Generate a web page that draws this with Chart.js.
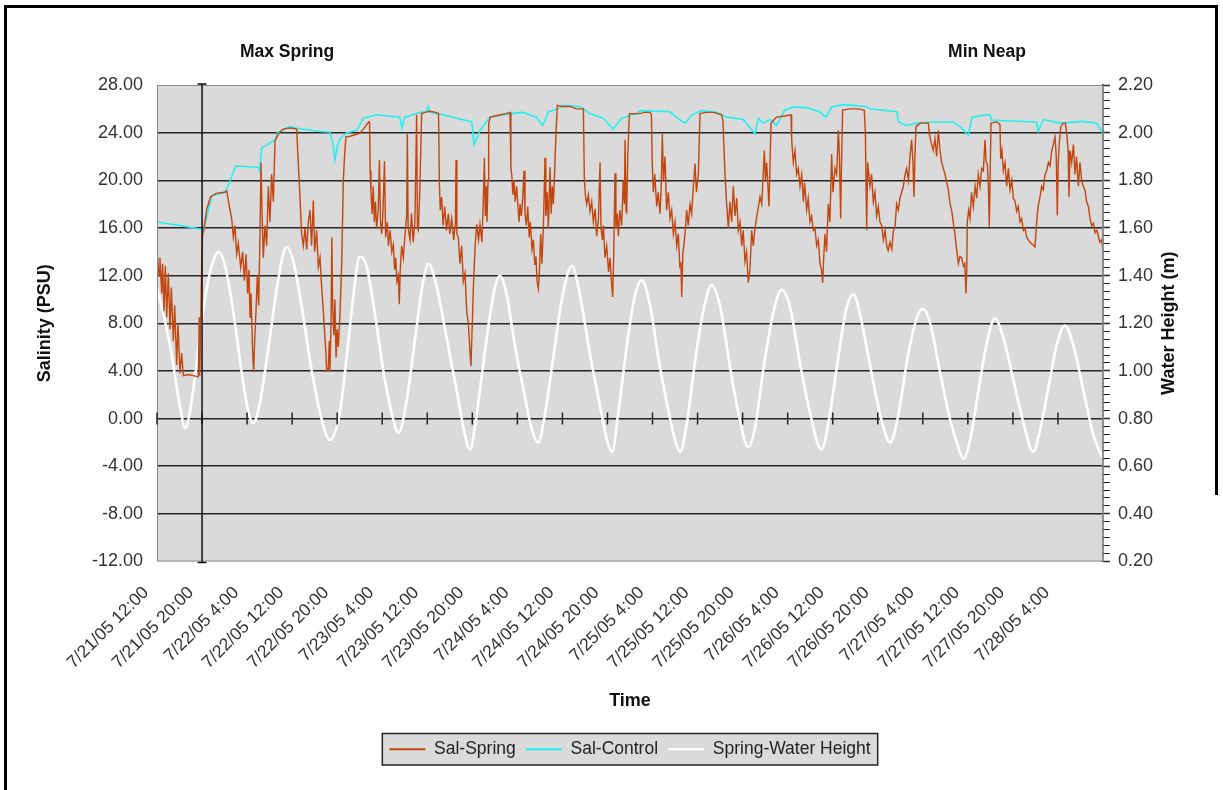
<!DOCTYPE html>
<html>
<head>
<meta charset="utf-8">
<title>Sal-Spring / Sal-Control / Spring-Water Height</title>
<script src="https://cdn.jsdelivr.net/npm/chart.js@4.4.1/dist/chart.umd.min.js"></script>
<style>
  html, body { margin: 0; padding: 0; background: #fff; }
  #wrap { position: relative; width: 1223px; height: 790px; overflow: hidden; }
  #chart { position: absolute; left: 0; top: 0; }
  .frame { position: absolute; background: #000; }
</style>
</head>
<body>
<div id="wrap">
  <canvas id="chart" width="1223" height="790"></canvas>
  <div class="frame" style="left:4px;top:5px;width:1214px;height:3px"></div>
  <div class="frame" style="left:4px;top:5px;width:3px;height:785px"></div>
  <div class="frame" style="left:1215px;top:5px;width:3px;height:490px"></div>
</div>
<script>
// hours since 7/21/05 12:00, one label every 8 hours
const timeLabels = ['7/21/05 12:00', '7/21/05 20:00', '7/22/05 4:00', '7/22/05 12:00', '7/22/05 20:00',
    '7/23/05 4:00', '7/23/05 12:00', '7/23/05 20:00', '7/24/05 4:00', '7/24/05 12:00', '7/24/05 20:00',
    '7/25/05 4:00', '7/25/05 12:00', '7/25/05 20:00', '7/26/05 4:00', '7/26/05 12:00', '7/26/05 20:00',
    '7/27/05 4:00', '7/27/05 12:00', '7/27/05 20:00', '7/28/05 4:00'];

// [hour, salinity PSU]
const salSpring = [
    [0,16.1],[0.06,13.8],[0.36,12.0],[0.53,13.5],[0.83,10.5],[1.0,13.0],[1.24,9.0],[1.48,12.8],[1.72,8.5],[2.01,12.2],
    [2.31,7.5],[2.55,11.0],[2.9,6.5],[3.14,9.5],[3.49,4.5],[3.73,8.0],[4.08,3.8],[4.38,5.5],[4.68,3.6],[5.56,3.7],
    [6.45,3.6],[7.34,3.5],[7.5,8.5],[7.6,3.6],[7.9,12.0],[8.1,15.5],[8.3,15.8],[8.8,17.5],[9.5,18.6],[10.5,18.9],
    [12.0,19.0],[12.4,19.1],[12.85,17.8],[13.26,16.8],[13.56,15.2],[13.85,16.2],[14.15,13.8],[14.44,14.7],[14.86,12.7],[15.21,14.0],
    [15.51,11.6],[15.81,13.8],[16.1,10.5],[16.34,12.5],[16.52,8.5],[16.69,10.5],[16.99,5.5],[17.17,3.9],[17.34,6.5],[17.58,9.0],
    [17.82,12.0],[18.06,9.5],[18.29,15.5],[18.47,21.5],[18.65,17.5],[18.88,13.5],[19.18,16.2],[19.48,14.5],[19.77,19.5],[20.07,16.5],
    [20.36,20.5],[20.66,18.2],[20.96,23.3],[21.55,23.9],[22.44,24.3],[23.62,24.4],[24.8,24.3],[25.04,22.0],[25.4,18.5],[25.69,15.5],
    [25.99,14.5],[26.28,16.0],[26.58,14.2],[26.87,16.5],
    [27.17,17.5],[27.45,14.5],[27.76,18.3],[28.0,14.0],[28.35,15.8],[28.65,12.7],[28.95,13.5],[29.25,11.0],[29.54,9.0],[29.8,7.0],
    [30.0,5.5],[30.13,4.0],[30.4,4.1],[30.6,6.5],[30.72,4.0],[30.9,8.0],[31.05,15.2],[31.2,9.5],[31.4,7.0],[31.6,10.0],
    [31.8,5.1],[32.0,7.5],[32.2,6.0],[32.5,8.8],[32.8,13.0],[33.09,20.0],[33.3,22.0],[33.55,23.65],[34.3,23.7],[35.0,23.8],
    [36.05,23.95],[37.0,24.5],[37.6,24.9],[37.75,24.9],[37.85,20.8],[38.0,19.0],[38.2,17.2],[38.4,19.5],[38.6,16.5],[38.8,18.2],
    [39.0,16.0],[39.3,17.5],[39.5,21.7],[39.7,16.5],[39.9,15.5],[40.1,17.0],[40.4,21.6],[40.6,15.2],[40.9,16.5],[41.1,14.5],
    [41.4,15.8],[41.7,14.0],[41.97,14.6],[42.2,12.5],[42.4,13.5],[42.6,11.5],[42.85,12.0],[43.03,9.6],[43.2,12.5],[43.45,14.5],
    [43.75,13.5],[44.05,15.5],[44.34,17.0],[44.46,23.9],[44.6,16.0],[44.93,15.0],[45.2,17.2],[45.5,14.8],[45.8,16.5],[46.11,25.5],
    [46.25,16.0],[46.41,15.8],[46.7,19.5],[47.0,25.6],[47.6,25.7],[48.5,25.8],[49.5,25.7],[50.0,25.6],[50.14,20.0],[50.3,17.5],
    [50.55,18.6],[50.8,16.2],[51.1,17.8],[51.4,15.8],[51.74,17.2],[52.0,15.5],[52.33,16.8],[52.7,15.0],[53.0,16.5],[53.1,21.7],
    [53.25,15.5],[53.51,15.2],[53.8,13.0],[54.1,14.5],[54.4,11.5],[54.7,12.2],[55.0,9.0],[55.29,8.0],[55.6,5.5],[55.75,4.4],
    [55.9,6.5],[56.18,11.0],[56.5,14.5],[56.77,16.3],[57.1,15.0],[57.36,16.3],
    [57.7,14.8],[57.96,18.5],[58.14,21.9],[58.3,17.0],[58.43,19.5],[58.6,16.5],[58.8,20.0],[58.9,24.8],[59.2,25.3],[60.0,25.4],
    [61.0,25.5],[62.0,25.6],[62.69,25.7],[62.85,21.0],[63.0,20.5],[63.2,18.8],[63.4,20.0],[63.6,18.2],[63.88,19.5],[64.1,17.8],
    [64.3,16.5],[64.47,18.0],[64.7,17.0],[64.95,18.5],[65.18,20.8],[65.35,17.2],[65.6,16.2],[65.85,17.8],[66.1,15.2],[66.3,16.5],
    [66.6,14.2],[66.84,15.0],[67.1,12.9],[67.3,13.6],[67.5,11.5],[67.73,10.9],[67.9,12.2],[68.14,15.5],[68.35,13.0],[68.61,16.0],
    [68.91,21.9],[69.05,17.0],[69.3,19.0],[69.5,16.0],[69.8,21.1],[70.0,17.2],[70.2,19.5],[70.39,18.0],[70.6,20.5],[70.86,24.0],
    [71.1,26.3],[72.0,26.2],[73.35,26.2],[74.5,26.0],[75.72,26.0],[75.9,20.0],[76.1,18.6],[76.31,18.0],[76.6,18.8],[76.9,17.4],
    [77.2,18.2],[77.49,16.5],[77.8,17.6],[78.08,15.3],[78.4,16.8],[78.68,21.5],[78.85,16.0],[79.1,15.0],[79.27,16.2],[79.55,13.5],
    [79.86,14.5],[80.2,12.3],[80.45,13.5],[80.7,11.5],[80.93,10.2],[81.1,13.5],[81.34,20.6],[81.5,16.0],[81.75,17.2],[81.93,15.3],
    [82.2,17.5],[82.52,16.2],[82.8,20.0],[83.0,18.0],[83.12,23.4],[83.3,17.5],[83.41,17.2],[83.6,22.0],[83.89,25.6],[85.0,25.6],
    [85.78,25.6],
    [86.5,25.7],[87.55,25.7],[87.8,25.5],[87.95,21.4],[88.14,19.0],[88.4,20.5],[88.74,17.8],[89.0,19.0],[89.33,17.2],[89.55,19.5],
    [89.74,23.9],[89.95,20.0],[90.22,22.0],[90.5,17.5],[90.81,19.0],[91.1,16.8],[91.4,17.5],[91.7,15.5],[91.99,16.5],[92.3,14.5],
    [92.58,15.5],[92.85,12.8],[93.05,13.0],[93.18,10.2],[93.4,14.0],[93.59,14.6],[93.85,16.0],[94.06,17.5],[94.35,16.2],[94.66,18.0],
    [94.95,17.2],[95.25,19.5],[95.54,21.4],[95.8,19.0],[96.14,20.5],[96.43,25.6],[97.5,25.7],[98.8,25.7],[100.28,25.5],[100.5,25.0],
    [100.87,20.5],[101.1,18.5],[101.46,16.0],[101.75,18.2],[102.05,16.5],[102.35,19.5],[102.65,17.0],[102.95,18.5],[103.24,15.8],[103.55,16.5],
    [103.83,14.5],[104.1,15.8],[104.42,13.2],[104.7,14.0],[105.01,11.4],[105.3,12.5],[105.61,15.8],[105.9,14.5],[106.2,16.0],[106.6,17.2],
    [107.09,18.6],[107.4,18.0],[107.86,22.5],[108.05,20.0],[108.27,21.5],[108.5,19.5],[108.68,17.8],[108.85,21.0],[109.04,24.8],[110.0,25.3],
    [111.5,25.4],[112.6,25.5],[112.71,23.4],[113.0,21.5],[113.3,22.5],[113.6,20.5],[113.9,21.0],[114.19,19.5],
    [114.5,20.5],[114.78,18.2],[115.0,19.8],[115.37,17.5],[115.65,18.5],[115.96,16.5],[116.25,17.0],[116.55,15.8],[116.85,16.0],[117.15,14.5],
    [117.45,15.0],[117.74,13.0],[118.0,12.5],[118.21,11.4],[118.4,13.5],[118.63,15.5],[118.9,14.0],[119.22,18.0],[119.5,16.5],[119.81,22.2],
    [120.05,19.0],[120.4,21.0],[120.7,20.5],[121.0,24.2],[121.2,22.0],[121.41,16.8],[121.55,21.0],[121.76,25.9],[123.0,26.0],[124.5,26.0],
    [125.6,25.9],[125.8,24.0],[126.03,15.8],[126.2,21.5],[126.62,19.5],[126.9,20.5],[127.21,18.2],[127.5,19.0],[127.8,17.0],[128.1,17.8],
    [128.39,16.5],[128.7,16.2],[128.99,15.0],[129.3,15.8],[129.58,14.5],[129.85,14.1],[130.17,14.8],[130.5,14.2],[130.76,15.8],[131.05,16.0],
    [131.35,18.0],[131.65,17.5],[131.94,18.5],[132.25,19.0],[132.54,19.5],[132.85,20.5],[133.13,21.0],[133.45,20.0],[133.72,22.0],[134.02,23.4],
    [134.25,21.5],[134.43,18.6],[134.6,22.0],[134.79,24.5],[135.5,24.8],[136.09,24.8],[136.98,24.8],[137.2,23.8],[137.57,23.0],[137.85,22.5],
    [138.16,23.5],[138.45,22.0],[138.75,24.2],[139.05,22.5],[139.34,21.5],[139.65,21.0],[139.94,20.5],[140.25,19.8],[140.53,19.2],[140.85,18.0],
    [141.12,17.5],[141.4,16.5],[141.71,15.5],[142.0,14.2],[142.3,13.0],[142.6,13.6],
    [142.9,13.5],[143.2,12.8],[143.45,13.0],[143.67,10.5],[143.8,12.5],[143.91,16.6],[144.15,17.5],[144.38,16.8],[144.65,19.0],[144.97,17.8],
    [145.3,19.5],[145.57,18.5],[145.85,20.5],[146.16,19.5],[146.45,21.0],[146.75,20.8],[147.05,23.4],[147.25,21.5],[147.46,21.4],[147.65,19.5],
    [147.81,16.1],[147.95,20.0],[148.11,24.8],[149.12,24.9],[149.7,24.7],[149.83,21.8],[150.05,22.5],[150.3,20.8],[150.6,21.5],[150.89,19.5],
    [151.2,21.0],[151.49,19.2],[151.8,20.0],[152.08,18.5],[152.4,18.2],[152.67,17.4],[152.95,17.8],[153.26,16.5],[153.55,16.8],[153.85,15.8],
    [154.15,16.0],[154.45,15.2],[154.75,15.0],[155.04,14.8],[155.5,14.6],[155.92,14.4],[156.15,16.0],[156.34,17.2],[156.55,18.0],[156.81,18.6],
    [157.1,19.5],[157.4,19.2],[157.7,20.5],[158.0,20.8],[158.3,21.5],[158.59,21.2],[158.9,22.5],[159.18,23.0],[159.48,23.65],[159.7,22.0],
    [159.89,17.05],[160.05,21.5],[160.25,23.2],[160.5,24.5],[160.96,24.8],[161.3,24.8],[161.55,24.0],[161.8,22.5],[161.96,18.6],[162.15,22.5],
    [162.44,21.5],[162.75,23.0],[163.03,20.5],[163.3,22.0],[163.62,19.5],[163.9,21.5],[164.21,20.0],[164.5,19.5],[164.8,19.2],[165.1,18.2],
    [165.4,17.8],[165.7,16.8],[165.99,16.2],[166.3,16.4],[166.58,15.6],[166.9,15.8],[167.17,15.3],[167.45,14.8],[167.76,15.0],[168.0,14.1]
];

// [hour, salinity PSU]
const salControl = [
    [0,16.5],[4.0,16.2],[7.9,15.9],[8.2,15.65],[9.7,18.7],[12.1,19.0],[13.0,20.0],[14.0,21.2],[18.0,21.1],[18.2,20.8],
    [18.6,22.7],[21.0,23.4],[21.5,24.05],[23.6,24.5],[25.1,24.35],[29.0,24.1],[30.7,24.05],[31.3,23.0],[31.6,21.7],[32.1,23.0],
    [32.5,23.5],[33.7,24.0],[35.5,24.2],[36.6,25.2],[39.0,25.5],[43.1,25.3],[43.5,24.4],[44.0,25.3],[46.1,25.6],[47.9,25.8],
    [48.2,26.2],[48.5,25.7],[50.8,25.5],[55.9,24.9],[56.3,23.0],[57.1,23.9],[57.4,24.2],[59.1,25.3],[62.7,25.6],[65.0,25.7],
    [67.4,25.3],[68.5,24.6],[69.5,25.75],[71.6,26.1],[72.2,26.3],[75.1,26.2],[76.9,25.6],[79.3,25.2],[81.0,24.3],[82.5,25.2],
    [85.2,25.6],[85.8,25.85],[91.1,25.75],[92.9,25.05],[93.8,24.8],[95.0,25.5],[96.7,25.85],[99.4,25.7],[101.2,25.3],[104.1,25.1],
    [106.2,23.9],[106.8,25.2],[107.6,24.8],[108.9,25.1],[110.0,24.6],[110.6,25.1],[111.5,25.9],[113.0,26.15],[115.4,26.1],[117.7,25.75],
    [118.8,25.3],[119.8,26.15],[121.9,26.35],[126.0,26.2],[126.6,26.0],[131.4,25.75],[131.7,24.9],[133.1,24.6],[134.9,24.8],[137.3,24.9],
    [141.4,24.9],[142.6,24.5],[144.1,23.8],[144.7,25.3],[147.3,25.5],[147.9,25.5],[148.2,25.05],[150.3,25.0],[156.2,24.9],[156.5,24.1],
    [157.4,25.1],[160.4,24.8],[164.5,24.95],[166.9,24.8],[168,23.9]
];

// [hour, water height m]
const waterHeight = [
    [0,1.35],[2.3,1.11],[4.1,0.85],[5.0,0.76],[6.5,0.93],[7.6,1.15],[9.1,1.38],[10.3,1.48],[10.9,1.50],[12.1,1.44],
    [13.6,1.24],[15.0,1.00],[16.2,0.83],[17.1,0.78],[18.3,0.87],[19.8,1.10],[21.3,1.35],[22.4,1.49],[23.0,1.52],[24.2,1.46],
    [25.7,1.27],[27.2,1.04],[29.0,0.82],[30.7,0.71],[32.5,0.83],[33.7,1.06],[34.9,1.32],[36.0,1.48],[37.2,1.44],[38.7,1.24],
    [40.2,1.00],[41.7,0.82],[42.9,0.74],[44.3,0.87],[45.8,1.13],[47.3,1.38],[48.2,1.45],[49.7,1.35],[51.5,1.13],[53.2,0.92],
    [54.7,0.73],[55.6,0.67],[56.5,0.77],[57.4,0.93],[58.8,1.18],[60.0,1.35],[60.9,1.40],[62.1,1.32],[63.6,1.10],[65.1,0.92],
    [66.5,0.76],[67.7,0.70],[68.9,0.82],[70.4,1.06],[71.9,1.30],[73.7,1.44],[75.1,1.32],[76.9,1.07],[78.7,0.85],[79.9,0.71],
    [80.8,0.66],[81.9,0.82],[83.4,1.10],[84.9,1.32],[86.1,1.38],[87.6,1.27],[89.0,1.06],[90.5,0.87],[92.0,0.71],[92.9,0.66],
    [94.1,0.78],[95.5,1.03],[97.0,1.25],[98.5,1.36],[100.0,1.27],[101.8,1.01],[103.2,0.83],[105.0,0.68],[106.2,0.76],[107.7,1.01],
    [109.5,1.25],[110.9,1.34],[112.4,1.27],[114.2,1.03],[116.0,0.82],[118.0,0.67],[119.5,0.82],[121.0,1.06],[122.5,1.27],[123.7,1.32],
    [125.1,1.21],[126.9,0.99],[128.7,0.79],[130.2,0.70],[131.7,0.82],[133.4,1.07],[135.2,1.24],[136.1,1.26],[137.3,1.20],[139.1,0.99],
    [140.8,0.80],[142.3,0.68],[143.2,0.63],[144.4,0.71],[145.9,0.92],[147.3,1.11],[148.8,1.22],[150.3,1.14],[152.1,0.96],[153.9,0.78],
    [155.6,0.66],[156.8,0.75],[158.3,0.93],[159.8,1.11],[161.2,1.19],[162.7,1.11],[164.5,0.92],[166.3,0.73],[168.0,0.63]
];

const maxSpringHour = 8;     // black marker line
const maxSpringNoteHour = 23.1;
const minNeapNoteHour = 147.4;

const FONT = "'Liberation Sans', Arial, sans-serif";
const PLOT_BG = '#dadada';
const GRID = '#242424';

Chart.defaults.font.family = FONT;
Chart.defaults.color = '#333';

function toPoints(pairs) {
    return pairs.map(p => ({ x: p[0], y: p[1] }));
}

function isMajorHeight(v) {
    const m = v * 5;
    return Math.abs(m - Math.round(m)) < 1e-6;
}

const plotDecor = {
    id: 'plotDecor',
    beforeDraw(chart) {
        const { ctx, chartArea: a } = chart;
        ctx.save();
        ctx.fillStyle = PLOT_BG;
        ctx.fillRect(a.left, a.top, a.right - a.left, a.bottom - a.top);

        const boxes = chart.legend && chart.legend.legendHitBoxes;
        if (boxes && boxes.length) {
            const l = Math.min(...boxes.map(b => b.left)) - 7;
            const r = Math.max(...boxes.map(b => b.left + b.width)) + 7;
            const t = boxes[0].top - 7;
            const h = boxes[0].height + 14;
            ctx.fillStyle = PLOT_BG;
            ctx.fillRect(l, t, r - l, h);
            ctx.strokeStyle = '#222';
            ctx.lineWidth = 1.5;
            ctx.strokeRect(l, t, r - l, h);
        }
        ctx.restore();
    },
    afterDatasetsDraw(chart) {
        const { ctx, chartArea: a, scales } = chart;
        const x = scales.x;
        const y0 = scales.ySal.getPixelForValue(0);
        ctx.save();
        ctx.strokeStyle = '#8a8a8a';
        ctx.lineWidth = 1;
        ctx.strokeRect(a.left + 0.5, a.top + 0.5, a.right - a.left - 1, a.bottom - a.top - 1);

        // category axis crosses at 0
        ctx.strokeStyle = GRID;
        ctx.lineWidth = 1.5;
        ctx.beginPath();
        x.ticks.forEach(t => {
            const px = x.getPixelForValue(t.value);
            ctx.moveTo(px, y0 - 6);
            ctx.lineTo(px, y0 + 6);
        });
        ctx.stroke();

        const mx = x.getPixelForValue(maxSpringHour);
        ctx.strokeStyle = '#111';
        ctx.beginPath();
        ctx.moveTo(mx, a.top - 1);
        ctx.lineTo(mx, a.bottom + 1);
        ctx.moveTo(mx - 4.5, a.top - 1);
        ctx.lineTo(mx + 4.5, a.top - 1);
        ctx.moveTo(mx - 4.5, a.bottom + 1);
        ctx.lineTo(mx + 4.5, a.bottom + 1);
        ctx.stroke();
        ctx.restore();
    },
    afterDraw(chart) {
        const { ctx, scales } = chart;
        const x = scales.x;
        const yw = scales.yWater;
        ctx.save();
        ctx.fillStyle = '#111';
        ctx.font = 'bold 17.5px ' + FONT;
        ctx.textAlign = 'center';
        ctx.textBaseline = 'middle';
        ctx.fillText('Max Spring', x.getPixelForValue(maxSpringNoteHour), 52);
        ctx.fillText('Min Neap', x.getPixelForValue(minNeapNoteHour), 52);

        ctx.font = 'bold 18px ' + FONT;
        ctx.translate(yw.right - 54, (yw.top + yw.bottom) / 2);
        ctx.rotate(-Math.PI / 2);
        ctx.fillText('Water Height (m)', 0, 0);
        ctx.restore();
    }
};

new Chart(document.getElementById('chart'), {
    type: 'line',
    data: {
        datasets: [
            {
                label: 'Sal-Spring',
                data: toPoints(salSpring),
                borderColor: '#c2460f',
                backgroundColor: '#c2460f',
                borderWidth: 1.4,
                yAxisID: 'ySal'
            },
            {
                label: 'Sal-Control',
                data: toPoints(salControl),
                borderColor: '#22efef',
                backgroundColor: '#22efef',
                borderWidth: 1.6,
                yAxisID: 'ySal'
            },
            {
                label: 'Spring-Water Height',
                data: toPoints(waterHeight),
                borderColor: '#ffffff',
                backgroundColor: '#ffffff',
                borderWidth: 2.6,
                cubicInterpolationMode: 'monotone',
                yAxisID: 'yWater'
            }
        ]
    },
    options: {
        responsive: false,
        animation: false,
        devicePixelRatio: 1,
        elements: { point: { radius: 0 }, line: { tension: 0 } },
        layout: { padding: { top: 85, left: 0, right: 0, bottom: 22 } },
        plugins: {
            tooltip: { enabled: false },
            legend: {
                position: 'bottom',
                fullSize: false,
                labels: {
                    boxWidth: 36,
                    boxHeight: 2,
                    padding: 10,
                    color: '#222',
                    font: { size: 17.5 },
                    generateLabels: chart => Chart.defaults.plugins.legend.labels.generateLabels(chart)
                        .map(item => Object.assign(item, { lineWidth: 0 }))
                }
            }
        },
        scales: {
            x: {
                type: 'linear',
                position: 'bottom',
                min: 0,
                max: 168,
                afterFit: s => { s.height = 169; },
                afterBuildTicks: s => { s.ticks = timeLabels.map((_, i) => ({ value: i * 8 })); },
                grid: { display: false, drawTicks: false },
                border: { display: false },
                ticks: {
                    autoSkip: false,
                    minRotation: 45,
                    maxRotation: 45,
                    padding: 21,
                    labelOffset: -11,
                    color: '#333',
                    font: { size: 17.5 },
                    callback: (v, i) => timeLabels[i] || ''
                },
                title: {
                    display: true,
                    text: 'Time',
                    color: '#111',
                    font: { size: 18, weight: 'bold' },
                    padding: { top: 0, bottom: 19 }
                }
            },
            ySal: {
                position: 'left',
                min: -12,
                max: 28,
                afterFit: s => { s.width = 157; },
                grid: {
                    drawTicks: false,
                    lineWidth: 1.5,
                    color: c => (c.tick && (c.tick.value === 28 || c.tick.value === -12)) ? 'rgba(0,0,0,0)' : GRID
                },
                border: { display: false },
                ticks: {
                    stepSize: 4,
                    padding: 14,
                    color: '#333',
                    font: { size: 18 },
                    callback: v => v.toFixed(2)
                },
                title: {
                    display: true,
                    text: 'Salinity (PSU)',
                    color: '#111',
                    font: { size: 18, weight: 'bold' },
                    padding: { top: 34, bottom: 0 }
                }
            },
            yWater: {
                position: 'right',
                min: 0.2,
                max: 2.2,
                afterFit: s => { s.width = 120; },
                afterBuildTicks: s => {
                    const t = [];
                    for (let k = 0; k <= 60; k++) t.push({ value: 0.2 + k / 30 });
                    s.ticks = t;
                },
                grid: {
                    drawOnChartArea: false,
                    tickLength: 7,
                    tickColor: GRID,
                    tickWidth: c => (c.tick && isMajorHeight(c.tick.value)) ? 1.5 : 1
                },
                border: { display: true, color: GRID, width: 1.5 },
                ticks: {
                    autoSkip: false,
                    padding: 8,
                    color: '#333',
                    font: { size: 18 },
                    callback: v => isMajorHeight(v) ? v.toFixed(2) : ''
                }
            }
        }
    },
    plugins: [plotDecor]
});
</script>
</body>
</html>
